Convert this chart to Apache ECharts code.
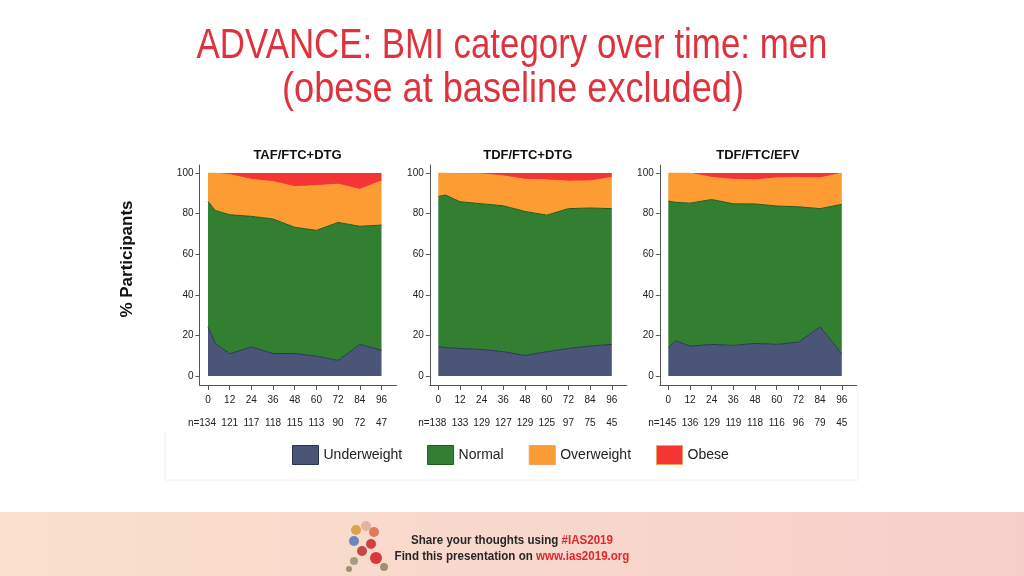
<!DOCTYPE html>
<html>
<head>
<meta charset="utf-8">
<script src="https://cdn.jsdelivr.net/npm/echarts@6/dist/echarts.min.js"></script>
<style>
html,body{margin:0;padding:0;background:#fff;}
#c{width:1024px;height:576px;}
</style>
</head>
<body>
<div id="c"></div>
<script>
// ---- data ----
const weeks = [0, 4, 12, 24, 36, 48, 60, 72, 84, 96];
const tickWeeks = [0, 12, 24, 36, 48, 60, 72, 84, 96];
const yTicks = [0, 20, 40, 60, 80, 100];
const panels = ['TAF/FTC+DTG', 'TDF/FTC+DTG', 'TDF/FTC/EFV'];
const categories = ['Underweight', 'Normal', 'Overweight', 'Obese'];

const tafUnder = [24.3, 16.1, 11.0, 14.4, 11.1, 11.1, 9.8, 7.7, 15.6, 12.8];
const tafNormal = [61.8, 65.5, 68.5, 64.3, 66.3, 62.2, 62.0, 68.0, 58.2, 61.6];
const tafOver = [13.9, 18.4, 19.8, 18.3, 18.5, 20.1, 22.1, 18.9, 18.3, 21.8];
const tafObese = [0, 0, 0.7, 3.0, 4.1, 6.6, 6.1, 5.4, 7.9, 3.8];
const tafN = [134, 121, 117, 118, 115, 113, 90, 72, 47];

const tdfDtgUnder = [14.4, 14.1, 13.6, 13.1, 12.0, 10.2, 12.0, 13.6, 14.8, 15.6];
const tdfDtgNormal = [74.1, 75.1, 72.3, 71.8, 71.9, 70.9, 67.3, 68.9, 68.0, 66.9];
const tdfDtgOver = [11.5, 10.8, 13.9, 14.8, 14.8, 15.9, 17.4, 13.6, 13.4, 15.5];
const tdfDtgObese = [0, 0, 0.2, 0.3, 1.3, 3.0, 3.3, 3.9, 3.8, 2.0];
const tdfDtgN = [138, 133, 129, 127, 129, 125, 97, 75, 45];

const efvUnder = [13.9, 17.4, 14.8, 15.6, 15.1, 16.1, 15.6, 16.7, 24.3, 11.0];
const efvNormal = [72.3, 68.2, 70.4, 71.4, 69.8, 68.7, 68.2, 66.7, 58.2, 73.6];
const efvOver = [13.8, 14.4, 14.8, 11.0, 12.1, 11.9, 13.9, 14.5, 15.2, 15.4];
const efvObese = [0, 0, 0, 2.0, 3.0, 3.3, 2.3, 2.1, 2.3, 0];
const efvN = [145, 136, 129, 119, 118, 116, 96, 79, 45];

const panelData = [
  [tafUnder, tafNormal, tafOver, tafObese],
  [tdfDtgUnder, tdfDtgNormal, tdfDtgOver, tdfDtgObese],
  [efvUnder, efvNormal, efvOver, efvObese]
];
const panelN = [tafN, tdfDtgN, efvN];

// ---- style ----
const fills = ['#4a5577', '#327f32', '#fd9c33', '#f53434'];
const borders = ['#2a3554', '#1f5a1f', '#fd9c33', '#f53434'];
const lineW = [1, 1, 0.6, 0];
const gridLeft = [199.5, 429.8, 659.8];
const font = 'Liberation Sans, Arial, sans-serif';

const grid = [], xAxis = [], yAxis = [], series = [], title = [];
for (let p = 0; p < 3; p++) {
  grid.push({left: gridLeft[p], top: 165, width: 197, height: 220, containLabel: false});
  xAxis.push({
    type: 'value', gridIndex: p, min: -4.7, max: 104.3,
    axisLine: {onZero: false, lineStyle: {color: '#555', width: 1}},
    axisTick: {length: 5, lineStyle: {color: '#555'}, customValues: tickWeeks},
    axisLabel: {customValues: tickWeeks, margin: 10, fontSize: 10, color: '#222', fontFamily: font, showMinLabel: true, showMaxLabel: true},
    splitLine: {show: false}
  });
  const nArr = panelN[p];
  xAxis.push({
    type: 'value', gridIndex: p, min: -4.7, max: 104.3, position: 'bottom',
    axisLine: {show: false}, axisTick: {show: false},
    axisLabel: {customValues: tickWeeks, margin: 33, fontSize: 10, color: '#222', fontFamily: font,
      showMinLabel: true, showMaxLabel: true, hideOverlap: false,
      rich: {first: {width: 16, align: 'right', fontSize: 10, color: '#222', fontFamily: font}},
      formatter: v => { const i = Math.round(v / 12); return i === 0 ? '{first|n=' + nArr[i] + '}' : String(nArr[i]); }},
    splitLine: {show: false}
  });
  yAxis.push({
    type: 'value', gridIndex: p, min: -4.4, max: 104,
    axisLine: {show: true, onZero: false, lineStyle: {color: '#555', width: 1}},
    axisTick: {show: true, length: 4, lineStyle: {color: '#555'}, customValues: yTicks},
    axisLabel: {customValues: yTicks, margin: 6, fontSize: 10, color: '#222', fontFamily: font},
    splitLine: {show: false}
  });
  for (let c = 0; c < 4; c++) {
    const arr = panelData[p][c];
    series.push({
      name: categories[c], type: 'line', xAxisIndex: p * 2, yAxisIndex: p,
      stack: 'panel' + p, symbol: 'none', smooth: false,
      dimensions: ['pct', 'week'],
      encode: {x: 'week', y: 'pct'},
      itemStyle: {color: fills[c]},
      lineStyle: {color: borders[c], width: lineW[c]},
      areaStyle: {color: fills[c], opacity: 1},
      data: weeks.map((w, i) => [arr[i], w]),
      silent: true, animation: false
    });
  }
  title.push({
    text: panels[p], left: gridLeft[p] + 98, top: 149, textAlign: 'center', padding: 0,
    textStyle: {fontSize: 13, fontWeight: 'bold', color: '#111', fontFamily: font}
  });
}

const richFooter = {
  b: {font: 'bold 13px "Liberation Sans", Arial, sans-serif', fill: '#262626'},
  r: {font: 'bold 13px "Liberation Sans", Arial, sans-serif', fill: '#e2262c'}
};

const chart = echarts.init(document.getElementById('c'), null, {renderer: 'canvas'});
chart.setOption({
  backgroundColor: '#fff',
  animation: false,
  title: title,
  grid: grid, xAxis: xAxis, yAxis: yAxis, series: series,
  legend: {
    left: 292, top: 445, padding: 0, itemWidth: 26, itemHeight: 19, itemGap: 25, icon: 'rect',
    selectedMode: false,
    textStyle: {fontSize: 14, color: '#222', fontFamily: font},
    data: categories.map((c, i) => ({name: c, itemStyle: {color: fills[i], borderColor: i < 2 ? borders[i] : '#f0a060', borderWidth: 1}}))
  },
  graphic: [
    {type: 'polyline', silent: true, shape: {points: [[165, 432], [165, 480], [858, 480], [858, 392]]},
      style: {stroke: '#eeeeee', lineWidth: 1, fill: null}},
    {type: 'text', x: 512, y: 46, scaleX: 0.83, silent: true, style: {text: 'ADVANCE: BMI category over time: men',
      font: '42px "Liberation Sans", Arial, sans-serif', fill: '#e0323c', align: 'center', verticalAlign: 'middle'}},
    {type: 'text', x: 513, y: 90, scaleX: 0.86, silent: true, style: {text: '(obese at baseline excluded)',
      font: '42px "Liberation Sans", Arial, sans-serif', fill: '#e0323c', align: 'center', verticalAlign: 'middle'}},
    {type: 'text', x: 127, y: 259, rotation: Math.PI / 2, silent: true, style: {text: '% Participants',
      font: 'bold 17px "Liberation Sans", Arial, sans-serif', fill: '#111', align: 'center', verticalAlign: 'middle'}},
    {type: 'rect', silent: true, shape: {x: 0, y: 512, width: 1024, height: 64}, z: -1,
      style: {fill: new echarts.graphic.LinearGradient(0, 0, 1, 0, [{offset: 0, color: '#fae0cd'}, {offset: 1, color: '#f6cfcb'}])}},
    {type: 'text', x: 512, y: 540, scaleX: 0.89, silent: true, style: {
      rich: richFooter, text: '{b|Share your thoughts using }{r|#IAS2019}', align: 'center', verticalAlign: 'middle'}},
    {type: 'text', x: 512, y: 556, scaleX: 0.89, silent: true, style: {
      rich: richFooter, text: '{b|Find this presentation on }{r|www.ias2019.org}', align: 'center', verticalAlign: 'middle'}},
    // ribbon decoration
    {type: 'group', silent: true, children: [
      {type: 'circle', shape: {cx: 356, cy: 530, r: 5}, style: {fill: '#d9a54a'}},
      {type: 'circle', shape: {cx: 366, cy: 526, r: 5}, style: {fill: '#e4b3a0'}},
      {type: 'circle', shape: {cx: 374, cy: 532, r: 5}, style: {fill: '#e07a5a'}},
      {type: 'circle', shape: {cx: 354, cy: 541, r: 5}, style: {fill: '#6a86c0'}},
      {type: 'circle', shape: {cx: 371, cy: 544, r: 5}, style: {fill: '#d24040'}},
      {type: 'circle', shape: {cx: 362, cy: 551, r: 5}, style: {fill: '#c54848'}},
      {type: 'circle', shape: {cx: 354, cy: 561, r: 4}, style: {fill: '#a0a080'}},
      {type: 'circle', shape: {cx: 376, cy: 558, r: 6}, style: {fill: '#d83838'}},
      {type: 'circle', shape: {cx: 384, cy: 567, r: 4}, style: {fill: '#a09070'}},
      {type: 'circle', shape: {cx: 349, cy: 569, r: 3}, style: {fill: '#a09070'}}
    ]}
  ]
});
</script>
</body>
</html>
